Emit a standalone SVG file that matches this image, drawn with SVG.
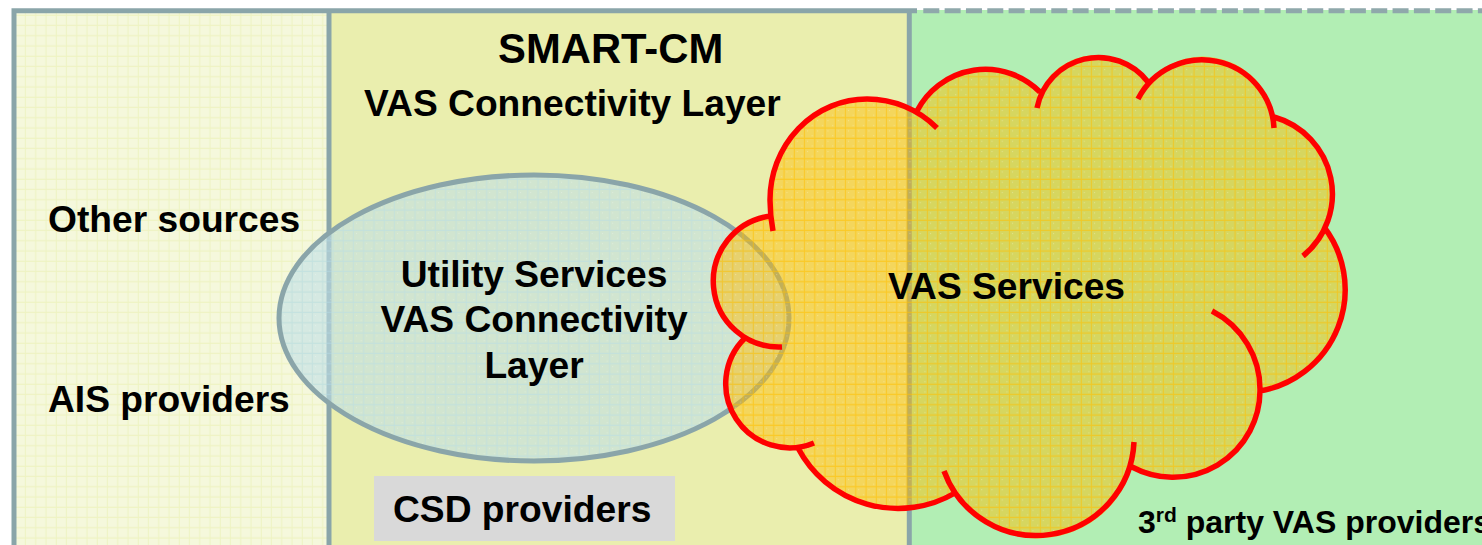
<svg xmlns="http://www.w3.org/2000/svg" width="1482" height="545" viewBox="0 0 1482 545">
<style>
text{font-family:"Liberation Sans",Arial,sans-serif;font-weight:bold;fill:#000}
.big{font-size:41.800px}
.mid{font-size:37.200px}
.panel{stroke:#8aa5a9;stroke-width:5}
.red{fill:none;stroke:#f00;stroke-width:5.500}
</style>
<defs>
<pattern id="gridL" width="10.25" height="10.25" patternUnits="userSpaceOnUse"><rect width="10.25" height="10.25" fill="#f5f8dc"/><path d="M5 0V10.25M0 5H10.25" stroke="#eef3c2" stroke-width="1"/></pattern>
<pattern id="gridE" width="10.25" height="10.25" patternUnits="userSpaceOnUse"><rect width="10.25" height="10.25" fill="#bfe0e6" fill-opacity=".6"/><path d="M5 0V10.25M0 5H10.25" stroke="#b5dbe8" stroke-opacity=".5" stroke-width="1"/><rect x="2" y="2" width="1" height="1" fill="#fff" fill-opacity=".3"/><rect x="7.500" y="7.500" width="1" height="1" fill="#fff" fill-opacity=".3"/></pattern>
<pattern id="gridC" width="10.25" height="10.25" patternUnits="userSpaceOnUse"><rect width="10.25" height="10.25" fill="#ffbc00" fill-opacity=".47"/><path d="M5 0V10.25M0 5H10.25" stroke="#ffc000" stroke-opacity=".6" stroke-width="1"/><rect x="2" y="2" width="1" height="1" fill="#fff" fill-opacity=".3"/><rect x="7.500" y="7.500" width="1" height="1" fill="#fff" fill-opacity=".3"/></pattern>
</defs>
<g id="panel-green"><rect x="909" y="10" width="573" height="535" fill="#b2eeb4"/><path d="M923.300 10.800H1482" fill="none" stroke="#8fa8ab" stroke-width="5" stroke-dasharray="16 5.330"/></g>
<g id="panel-yellow"><rect x="329" y="10" width="580" height="535" fill="#eaeeae"/></g>
<g id="panel-left"><rect x="14" y="10" width="315" height="535" fill="url(#gridL)"/></g>
<g id="panel-borders"><path class="panel" fill="none" d="M14 545V10.800H917M909.300 10.800V545M329 10.800V545"/></g>
<g id="ellipse-utility"><ellipse cx="534" cy="318" rx="255" ry="143" fill="url(#gridE)" stroke="#8aa5a9" stroke-width="5"/></g>
<g id="cloud-vas"><path fill="url(#gridC)" d="M770 216L770 200A97 101 0 0 1 867 99A99 99 0 0 1 917 110A77 77 0 0 1 1040 91A62.500 62.500 0 0 1 1148 82A72 72 0 0 1 1274 117A80 80 0 0 1 1324 227A103 103 0 0 1 1260 391A87 87 0 0 1 1132 467A98 98 0 0 1 955 493A113 113 0 0 1 798 448A64 64 0 0 1 745 338A65.850 65.850 0 0 1 770 216Z"/></g>
<g id="connectors"><path class="red" d="M773 231Q770 215 770 200A97 101 0 0 1 867 99A99 99 0 0 1 937 128M917 111A77 77 0 0 1 1040 92M1037 108A62.500 62.500 0 0 1 1148 82M1138 99A72 72 0 0 1 1274 128M1274 117A80 80 0 0 1 1303 256M1324 227A103 103 0 0 1 1260 391M1212 311A88 88 0 0 1 1260 391A87 87 0 0 1 1132 467M1134 442A98 98 0 0 1 944 471M955 493A113 113 0 0 1 798 448M814 443A64 64 0 0 1 745 338M782 347A65.850 65.850 0 0 1 770 216"/></g>
<g id="box-csd"><rect x="374" y="476" width="301" height="65" fill="#d9d9d9"/><text class="mid" x="393" y="522">CSD providers</text></g>
<g id="labels">
<text class="big" x="498" y="62.500">SMART-CM</text>
<text class="mid" x="364" y="116">VAS Connectivity Layer</text>
<text class="mid" x="48" y="232">Other sources</text>
<text class="mid" x="48" y="412">AIS providers</text>
<text class="mid" x="534" y="287" text-anchor="middle">Utility Services</text>
<text class="mid" x="534" y="332" text-anchor="middle">VAS Connectivity</text>
<text class="mid" x="534" y="377.500" text-anchor="middle">Layer</text>
<text class="mid" x="888" y="299">VAS Services</text>
<text font-size="32" x="1138" y="533">3<tspan font-size="21" dy="-11">rd</tspan><tspan dy="11"> party VAS providers</tspan></text>
</g>
</svg>
